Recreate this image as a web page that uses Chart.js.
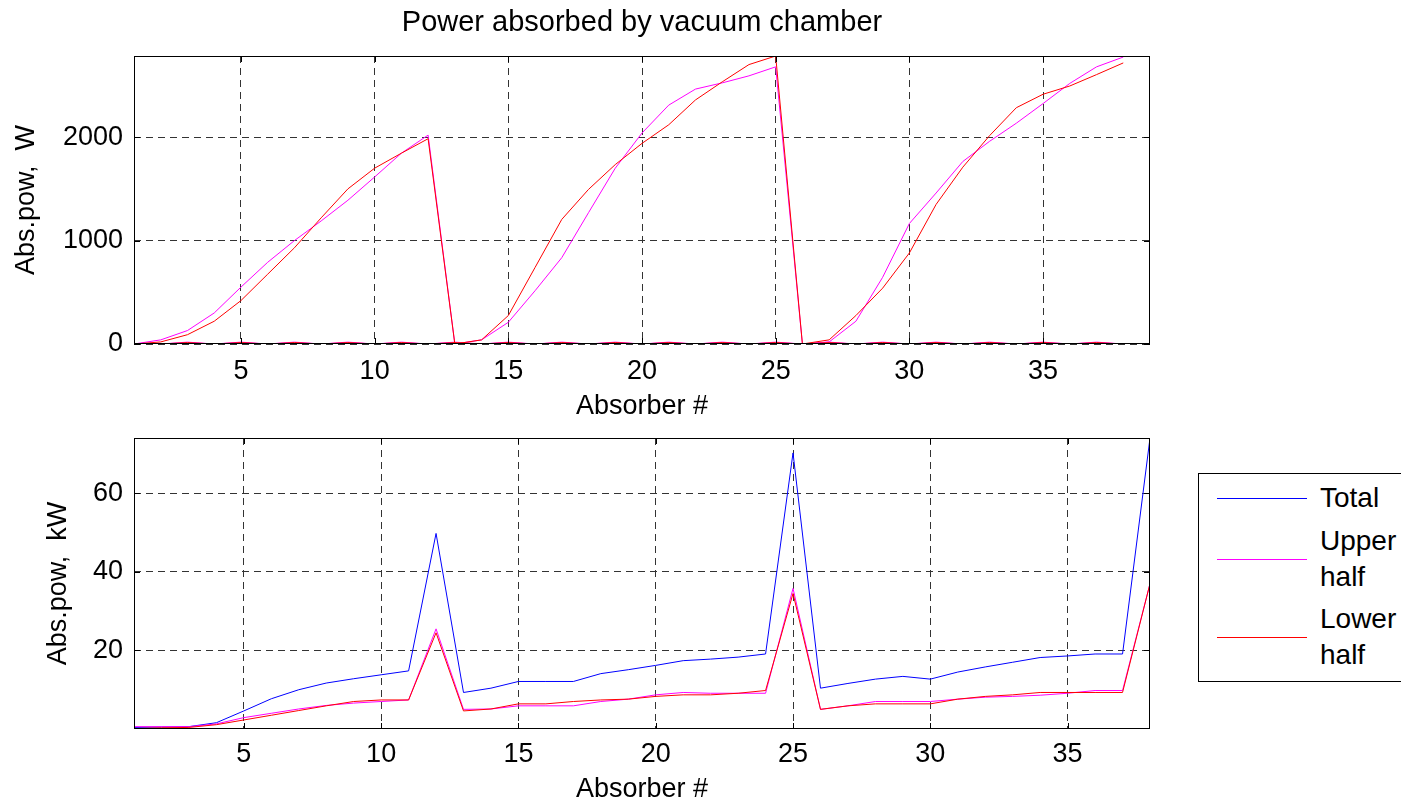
<!DOCTYPE html>
<html>
<head>
<meta charset="utf-8">
<title>Power absorbed by vacuum chamber</title>
<script src="https://cdn.jsdelivr.net/npm/chart.js@4.4.1/dist/chart.umd.min.js"></script>
<style>
  body { margin: 0; background: #fff; width: 1401px; height: 806px; overflow: hidden; position: relative;
         font-family: 'Liberation Sans', Arial, sans-serif; }
  canvas { position: absolute; left: 0; }
  #topChart { top: 0; }
  #bottomChart { top: 424px; }
  #legend { position: absolute; left: 1198px; top: 473px; width: 260px; height: 207px;
            border: 1px solid #000; background: #fff; }
  #legend .item { position: absolute; left: 0; width: 100%; }
  #legend svg { position: absolute; left: 18px; }
  #legend .text { position: absolute; left: 121px; top: 0; width: 90px; font-size: 28px; line-height: 36px; color: #000; }
</style>
</head>
<body>
<canvas id="topChart" width="1160" height="424"></canvas>
<canvas id="bottomChart" width="1160" height="382"></canvas>
<div id="legend"></div>
<script>
// absorber numbers along the x axis
const absorber = [1, 2, 3, 4, 5, 6, 7, 8, 9, 10, 11, 12, 13, 14, 15, 16, 17, 18, 19,
                  20, 21, 22, 23, 24, 25, 26, 27, 28, 29, 30, 31, 32, 33, 34, 35, 36, 37, 38];
const xTicks = [5, 10, 15, 20, 25, 30, 35];

// top plot, W
const topYTicks = [0, 1000, 2000];
const upperW = [0, 40, 130, 300, 550, 790, 1000, 1190, 1390, 1615, 1845, 2020,
                0, 40, 210, 515, 835, 1270, 1700, 2040, 2310, 2465, 2525, 2593, 2680,
                0, 20, 220, 645, 1165, 1460, 1765, 1960, 2135, 2325, 2520, 2680, 2775];
const lowerW = [0, 20, 90, 220, 420, 675, 930, 1220, 1500, 1700, 1845, 1985,
                0, 40, 275, 740, 1205, 1495, 1735, 1940, 2120, 2360, 2535, 2702, 2785,
                0, 40, 275, 540, 880, 1350, 1710, 2015, 2285, 2415, 2495, 2605, 2718];
// the small ripple lying on the zero line
const upperRipple = [0, 0, 18, 0, 18, 0, 18, 0, 18, 0, 18, 0, 18, 0, 18, 0, 18, 0, 18,
                     0, 18, 0, 18, 0, 18, 0, 18, 0, 18, 0, 18, 0, 18, 0, 18, 0, 18, 0];
const lowerRipple = [0, 0, 14, 0, 14, 0, 14, 0, 14, 0, 14, 0, 14, 0, 14, 0, 14, 0, 14,
                     0, 14, 0, 14, 0, 14, 0, 14, 0, 14, 0, 14, 0, 14, 0, 14, 0, 14, 0];

// bottom plot, kW
const bottomYTicks = [20, 40, 60];
const totalKW = [0.4, 0.5, 0.6, 1.6, 4.6, 7.7, 10.0, 11.7, 12.8, 13.8, 14.8, 49.8,
                 9.3, 10.4, 12.1, 12.1, 12.1, 14.1, 15.1, 16.2, 17.4, 17.8, 18.3, 19.1, 70.3,
                 10.4, 11.6, 12.7, 13.4, 12.7, 14.5, 15.8, 17.0, 18.2, 18.6, 19.1, 19.1, 74.1];
const upperKW = [0.6, 0.6, 0.6, 1.3, 2.9, 4.0, 5.1, 6.0, 6.6, 7.0, 7.4, 25.5,
                 5.0, 5.1, 5.9, 5.9, 5.9, 7.0, 7.6, 8.7, 9.3, 9.1, 9.1, 9.1, 35.8,
                 5.0, 5.9, 7.0, 7.0, 7.0, 7.6, 8.1, 8.3, 8.6, 9.1, 9.8, 9.8, 37.0];
const lowerKW = [0.1, 0.3, 0.4, 1.1, 2.3, 3.5, 4.7, 5.9, 7.0, 7.4, 7.4, 24.5,
                 4.6, 5.1, 6.4, 6.4, 7.0, 7.4, 7.6, 8.3, 8.7, 8.7, 9.1, 9.8, 34.5,
                 5.0, 5.9, 6.4, 6.4, 6.4, 7.6, 8.3, 8.7, 9.3, 9.3, 9.3, 9.3, 37.0];

const BLUE = '#0000ff';
const MAGENTA = '#ff00ff';
const RED = '#ff0000';

Chart.defaults.font.family = "'Liberation Sans', Arial, sans-serif";
Chart.defaults.color = '#000';

const points = ys => ys.map((y, i) => ({ x: absorber[i], y: y }));

const line = (label, ys, color, order) => ({
    label: label,
    data: points(ys),
    borderColor: color,
    backgroundColor: color,
    borderWidth: 1,
    pointRadius: 0,
    tension: 0,
    fill: false,
    order: order
});

// matlab style box with inward tick marks
const boxFrame = {
    id: 'boxFrame',
    afterDraw(chart) {
        const { ctx, chartArea: a, scales } = chart;
        ctx.save();
        ctx.strokeStyle = '#000';
        ctx.lineWidth = 1;
        ctx.strokeRect(a.left + 0.5, a.top + 0.5, a.width - 1, a.height - 1);
        ctx.beginPath();
        scales.x.ticks.forEach(t => {
            const px = Math.round(scales.x.getPixelForValue(t.value)) + 0.5;
            ctx.moveTo(px, a.bottom); ctx.lineTo(px, a.bottom - 6);
            ctx.moveTo(px, a.top); ctx.lineTo(px, a.top + 6);
        });
        scales.y.ticks.forEach(t => {
            const py = Math.round(scales.y.getPixelForValue(t.value)) + 0.5;
            ctx.moveTo(a.left, py); ctx.lineTo(a.left + 6, py);
            ctx.moveTo(a.right, py); ctx.lineTo(a.right - 6, py);
        });
        ctx.stroke();
        ctx.restore();
    }
};

const noPad = a => { a.paddingTop = 0; a.paddingBottom = 0; a.paddingLeft = 0; a.paddingRight = 0; };

function makeScales(o) {
    return {
        x: {
            type: 'linear', min: 1, max: o.xMax,
            afterBuildTicks: a => { a.ticks = xTicks.map(v => ({ value: v })); },
            afterFit: a => { a.height = o.xAxisHeight; noPad(a); },
            grid: { color: '#333', lineWidth: 1, drawTicks: false },
            border: { display: false, dash: [7, 5] },
            ticks: { padding: o.xTickPad, font: { size: 27 }, maxRotation: 0, autoSkip: false,
                     callback: v => String(v) },
            title: { display: true, text: 'Absorber #', font: { size: 27 },
                     padding: { top: 0, bottom: o.xTitlePad } }
        },
        y: {
            min: 0, max: o.yMax,
            afterBuildTicks: a => { a.ticks = o.yTicks.map(v => ({ value: v })); },
            afterFit: a => { a.width = 134; noPad(a); },
            grid: { color: '#333', lineWidth: 1, drawTicks: false },
            border: { display: false, dash: [7, 5] },
            ticks: { padding: 11, font: { size: 27 }, callback: v => String(v) },
            title: { display: true, text: o.yTitle, font: { size: 27 },
                     padding: { top: o.yTitlePad, bottom: 0 } }
        }
    };
}

new Chart(document.getElementById('topChart'), {
    type: 'line',
    data: {
        datasets: [
            line('Upper half', upperW, MAGENTA, 1),
            line('Lower half', lowerW, RED, 0),
            line('Upper ripple', upperRipple, MAGENTA, 1),
            line('Lower ripple', lowerRipple, RED, 0)
        ]
    },
    options: {
        responsive: false,
        animation: false,
        devicePixelRatio: 1,
        layout: { padding: { left: 0, right: 10, top: 0, bottom: 0 } },
        plugins: {
            legend: { display: false },
            tooltip: { enabled: false },
            title: {
                display: true, fullSize: false,
                text: 'Power absorbed by vacuum chamber',
                font: { size: 29, weight: 'normal' },
                padding: { top: 6, bottom: 15.2 }
            }
        },
        scales: makeScales({ xMax: 39, yMax: 2785, yTicks: topYTicks, yTitle: 'Abs.pow,  W',
                             yTitlePad: 10, xAxisHeight: 80, xTickPad: 11, xTitlePad: 1 })
    },
    plugins: [boxFrame]
});

const bottomChart = new Chart(document.getElementById('bottomChart'), {
    type: 'line',
    data: {
        datasets: [
            line('Total', totalKW, BLUE, 2),
            line('Upper half', upperKW, MAGENTA, 1),
            line('Lower half', lowerKW, RED, 0)
        ]
    },
    options: {
        responsive: false,
        animation: false,
        devicePixelRatio: 1,
        layout: { padding: { left: 0, right: 10, top: 14, bottom: 0 } },
        plugins: { legend: { display: false }, tooltip: { enabled: false } },
        scales: makeScales({ xMax: 38, yMax: 74.1, yTicks: bottomYTicks, yTitle: 'Abs.pow,  kW',
                             yTitlePad: 42, xAxisHeight: 77, xTickPad: 9, xTitlePad: 0 })
    },
    plugins: [boxFrame]
});

// html legend built from the bottom chart datasets
const legendCenters = [24, 85, 163];
const legendColors = [BLUE, MAGENTA, RED];
const SVGNS = 'http://www.w3.org/2000/svg';
const legendBox = document.getElementById('legend');
bottomChart.data.datasets.forEach((ds, i) => {
    const words = ds.label.split(' ');
    const h = words.length * 36;
    const item = document.createElement('div');
    item.className = 'item';
    item.style.top = (legendCenters[i] - h / 2) + 'px';
    item.style.height = h + 'px';
    const svg = document.createElementNS(SVGNS, 'svg');
    svg.setAttribute('width', '90');
    svg.setAttribute('height', '2');
    svg.style.top = (h / 2 - 1) + 'px';
    const ln = document.createElementNS(SVGNS, 'line');
    ln.setAttribute('x1', '0'); ln.setAttribute('x2', '90');
    ln.setAttribute('y1', '1.5'); ln.setAttribute('y2', '1.5');
    ln.setAttribute('stroke', legendColors[i]);
    ln.setAttribute('stroke-width', '1');
    svg.appendChild(ln);
    const txt = document.createElement('div');
    txt.className = 'text';
    txt.textContent = ds.label;
    item.appendChild(svg);
    item.appendChild(txt);
    legendBox.appendChild(item);
});
</script>
</body>
</html>
